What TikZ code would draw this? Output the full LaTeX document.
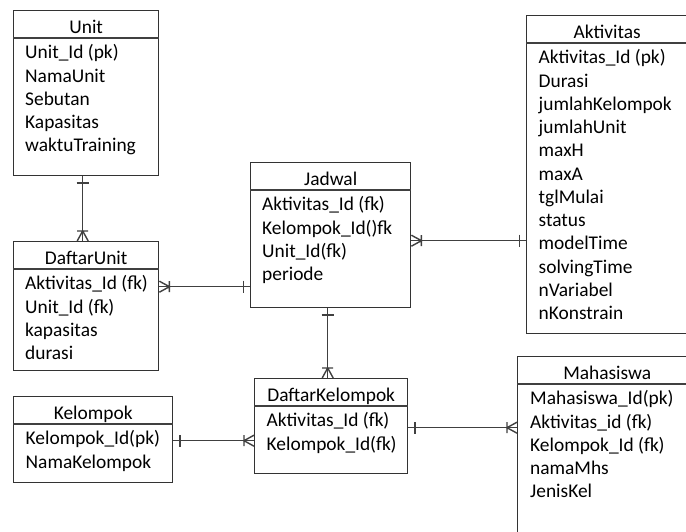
\documentclass[tikz,border=0pt]{standalone}
\usepackage{fontspec}
\setmainfont{Carlito}
\usetikzlibrary{calc}

\tikzset{
  entity/.style={draw=black!80, line width=1.4pt, anchor=north west, inner sep=0pt},
  title/.style={anchor=base, inner sep=0pt, font=\fontsize{19.4}{22}\selectfont},
  attr/.style={anchor=base west, inner sep=0pt, font=\fontsize{19.4}{22}\selectfont},
  conn/.style={black!75, line width=1.4pt},
  onebar/.pic={\draw[conn] (6.5,-6) -- (6.5,6);},
  crowfoot/.pic={\draw[conn] (0,-5.5) -- (10,0) -- (0,5.5) (10,-5.5) -- (10,5.5);}
}

\begin{document}
\begin{tikzpicture}[x=1pt, y=1pt]
\useasboundingbox (0,0) rectangle (686,532);
\clip (0,0) rectangle (686,532);
\fill [white] (0,0) rectangle (686,532);

% Unit
\node [entity, minimum width=145, minimum height=165] (unit) at (13,522) {};
\draw [conn] ([yshift=-28]unit.north west) -- ([yshift=-28]unit.north east);
\node [title] (unit-t) at ([yshift=-24]unit.north) {Unit};
\foreach \a [count=\n] in {Unit\_Id (pk), NamaUnit, Sebutan, Kapasitas, waktuTraining}
\node [attr] (unit-\n) at ([xshift=12, yshift={-25.75-23.25*\n}]unit.north west) {\a};

% DaftarUnit
\node [entity, minimum width=145, minimum height=129] (dunit) at (13,291) {};
\draw [conn] ([yshift=-28]dunit.north west) -- ([yshift=-28]dunit.north east);
\node [title] (dunit-t) at ([yshift=-24]dunit.north) {DaftarUnit};
\foreach \a [count=\n] in {Aktivitas\_Id (fk), Unit\_Id (fk), kapasitas, durasi}
\node [attr] (dunit-\n) at ([xshift=12, yshift={-25.75-23.25*\n}]dunit.north west) {\a};

% Jadwal
\node [entity, minimum width=160, minimum height=145] (jadwal) at (250,370) {};
\draw [conn] ([yshift=-28]jadwal.north west) -- ([yshift=-28]jadwal.north east);
\node [title] (jadwal-t) at ([yshift=-24]jadwal.north) {Jadwal};
\foreach \a [count=\n] in {Aktivitas\_Id (fk), Kelompok\_Id()fk, Unit\_Id(fk), periode}
\node [attr] (jadwal-\n) at ([xshift=12, yshift={-25.75-23.25*\n}]jadwal.north west) {\a};

% Aktivitas
\node [entity, minimum width=161, minimum height=318] (aktivitas) at (526,517) {};
\draw [conn] ([yshift=-28]aktivitas.north west) -- ([yshift=-28]aktivitas.north east);
\node [title] (aktivitas-t) at ([yshift=-24]aktivitas.north) {Aktivitas};
\foreach \a [count=\n] in {Aktivitas\_Id (pk), Durasi, jumlahKelompok, jumlahUnit, maxH, maxA,
  tglMulai, status, modelTime, solvingTime, nVariabel, nKonstrain}
\node [attr] (aktivitas-\n) at ([xshift=12.5, yshift={-25.75-23.25*\n}]aktivitas.north west) {\a};

% Kelompok
\node [entity, minimum width=159, minimum height=86] (kelompok) at (13,136) {};
\draw [conn] ([yshift=-28]kelompok.north west) -- ([yshift=-28]kelompok.north east);
\node [title] (kelompok-t) at ([yshift=-24]kelompok.north) {Kelompok};
\foreach \a [count=\n] in {Kelompok\_Id(pk), NamaKelompok}
\node [attr] (kelompok-\n) at ([xshift=12.5, yshift={-25.75-23.25*\n}]kelompok.north west) {\a};

% DaftarKelompok
\node [entity, minimum width=153, minimum height=95] (dkel) at (254,154) {};
\draw [conn] ([yshift=-28]dkel.north west) -- ([yshift=-28]dkel.north east);
\node [title] (dkel-t) at ([yshift=-24]dkel.north) {DaftarKelompok};
\foreach \a [count=\n] in {Aktivitas\_Id (fk), Kelompok\_Id(fk)}
\node [attr] (dkel-\n) at ([xshift=12.5, yshift={-25.75-23.25*\n}]dkel.north west) {\a};

% Mahasiswa
\node [entity, minimum width=179, minimum height=190] (mhs) at (517,176) {};
\draw [conn] ([yshift=-28]mhs.north west) -- ([yshift=-28]mhs.north east);
\node [title] (mhs-t) at ([yshift=-24]mhs.north) {Mahasiswa};
\foreach \a [count=\n] in {Mahasiswa\_Id(pk), Aktivitas\_id (fk), Kelompok\_Id (fk), namaMhs, JenisKel}
\node [attr] (mhs-\n) at ([xshift=13, yshift={-25.75-23.25*\n}]mhs.north west) {\a};

% relations
\coordinate (u-du) at ([xshift=-3.5]unit.south);
\coordinate (du-u) at (u-du |- dunit.north);
\draw [conn] (u-du) -- (du-u);
\pic [rotate=-90] at (u-du) {onebar};
\pic [rotate=90] at (du-u) {crowfoot};

\coordinate (du-j) at ([yshift=19.5]dunit.east);
\coordinate (j-du) at (du-j -| jadwal.west);
\draw [conn] (du-j) -- (j-du);
\pic at (du-j) {crowfoot};
\pic [rotate=180] at (j-du) {onebar};

\coordinate (j-ak) at ([yshift=-5.5]jadwal.east);
\coordinate (ak-j) at (j-ak -| aktivitas.west);
\draw [conn] (j-ak) -- (ak-j);
\pic at (j-ak) {crowfoot};
\pic [rotate=180] at (ak-j) {onebar};

\coordinate (j-dk) at ([xshift=-3]jadwal.south);
\coordinate (dk-j) at (j-dk |- dkel.north);
\draw [conn] (j-dk) -- (dk-j);
\pic [rotate=-90] at (j-dk) {onebar};
\pic [rotate=90] at (dk-j) {crowfoot};

\coordinate (k-dk) at ([yshift=-1]kelompok.east);
\coordinate (dk-k) at (k-dk -| dkel.west);
\draw [conn] (k-dk) -- (dk-k);
\pic at (k-dk) {onebar};
\pic [rotate=180] at (dk-k) {crowfoot};

\coordinate (dk-m) at ([yshift=-1.5]dkel.east);
\coordinate (m-dk) at (dk-m -| mhs.west);
\draw [conn] (dk-m) -- (m-dk);
\pic at (dk-m) {onebar};
\pic [rotate=180] at (m-dk) {crowfoot};
\end{tikzpicture}
\end{document}
